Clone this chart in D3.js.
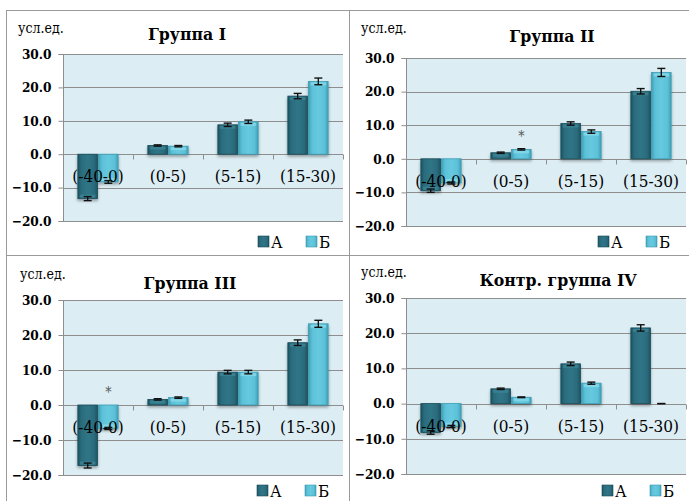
<!DOCTYPE html>
<html>
<head>
<meta charset="utf-8">
<script src="https://cdn.jsdelivr.net/npm/d3@7/dist/d3.min.js"></script>
<style>
  html, body { margin: 0; padding: 0; background: #ffffff; }
  svg { display: block; }
</style>
</head>
<body>
<svg id="chart" width="689" height="501"></svg>
<script>
// Temperature ranges on the x axis
const categories = ["(-40-0)", "(0-5)", "(5-15)", "(15-30)"];
const seriesNames = ["А", "Б"];
const yTicks = [30, 20, 10, 0, -10, -20];
const unitLabel = "усл.ед.";

const titles = ["Группа I", "Группа II", "Группа III", "Контр. группа IV"];

// Mean values (series А, Б) per range, with error half-widths
const group1A = [-13.3, 2.6, 8.8, 17.4];
const group1B = [-8.3, 2.4, 9.7, 21.8];
const group1AErr = [0.6, 0.2, 0.5, 0.8];
const group1BErr = [0.4, 0.2, 0.5, 1.0];

const group2A = [-9.5, 1.8, 10.5, 20.1];
const group2B = [-7.2, 2.8, 8.1, 25.7];
const group2AErr = [0.5, 0.2, 0.5, 0.8];
const group2BErr = [0.3, 0.2, 0.5, 1.2];

const group3A = [-17.3, 1.6, 9.4, 17.8];
const group3B = [-6.7, 2.1, 9.4, 23.2];
const group3AErr = [0.7, 0.2, 0.5, 0.8];
const group3BErr = [0.3, 0.2, 0.5, 1.0];

const group4A = [-8.2, 4.2, 11.3, 21.5];
const group4B = [-6.5, 1.8, 5.8, 0.0];
const group4AErr = [0.5, 0.2, 0.5, 0.9];
const group4BErr = [0.3, 0.1, 0.3, 0.0];

// Significance marks: [range index, series index]
const group1Marks = [];
const group2Marks = [[1, 1]];
const group3Marks = [[0, 1]];
const group4Marks = [];

const groups = [
  { A: group1A, B: group1B, AErr: group1AErr, BErr: group1BErr, marks: group1Marks },
  { A: group2A, B: group2B, AErr: group2AErr, BErr: group2BErr, marks: group2Marks },
  { A: group3A, B: group3B, AErr: group3AErr, BErr: group3BErr, marks: group3Marks },
  { A: group4A, B: group4B, AErr: group4AErr, BErr: group4BErr, marks: group4Marks }
];

// Panel geometry
const panels = [
  { frame: [6.5, 10.5, 349.5, 255.5], plot: [63, 343, 54, 221], titleX: 187, titleY: 40, unitX: 18, unitY: 33, legendX: 258, legendY: 248 },
  { frame: [349.5, 10.5, 700, 255.5], plot: [406, 686, 58, 226], titleX: 552, titleY: 42, unitX: 361, unitY: 33, legendX: 598, legendY: 248 },
  { frame: [6.5, 255.5, 349.5, 520], plot: [63, 343, 300, 475], titleX: 190, titleY: 289, unitX: 20, unitY: 279, legendX: 257, legendY: 497 },
  { frame: [349.5, 255.5, 700, 520], plot: [406, 686, 298, 474], titleX: 558, titleY: 286, unitX: 361, unitY: 277, legendX: 602, legendY: 497 }
];

const colorA = "#2b6c7d";
const colorB = "#5cc1d8";
const serif = "\"DejaVu Serif Condensed\", \"DejaVu Serif\", serif";

const svg = d3.select("#chart");
const defs = svg.append("defs");

function barGradient(id, edge, mid, light) {
  const g = defs.append("linearGradient").attr("id", id)
    .attr("x1", "0").attr("x2", "1").attr("y1", "0").attr("y2", "0");
  g.append("stop").attr("offset", "0").attr("stop-color", edge);
  g.append("stop").attr("offset", "0.18").attr("stop-color", mid);
  g.append("stop").attr("offset", "0.5").attr("stop-color", light);
  g.append("stop").attr("offset", "0.82").attr("stop-color", mid);
  g.append("stop").attr("offset", "1").attr("stop-color", edge);
}
barGradient("gradA", "#1d5362", colorA, "#2f7587");
barGradient("gradB", "#3f9fb6", colorB, "#66c9df");

const shadow = defs.append("filter").attr("id", "barShadow")
  .attr("x", "-30%").attr("y", "-10%").attr("width", "160%").attr("height", "130%");
shadow.append("feDropShadow").attr("dx", 0).attr("dy", 2).attr("stdDeviation", 1.6)
  .attr("flood-color", "#000").attr("flood-opacity", 0.35);

function txt(sel, size, weight) {
  return sel.style("font-family", serif).style("font-stretch", "condensed")
    .style("font-size", size + "px").style("font-weight", weight || "normal");
}

panels.forEach((p, i) => {
  const data = groups[i];
  const [x0px, x1px, yTop, yBot] = p.plot;
  const g = svg.append("g");

  // frame
  const [fx0, fy0, fx1, fy1] = p.frame;
  g.append("rect").attr("x", fx0).attr("y", fy0)
    .attr("width", fx1 - fx0).attr("height", fy1 - fy0)
    .attr("fill", "none").attr("stroke", "#9a9a9a").attr("stroke-width", 1);

  const x = d3.scaleBand().domain(categories).range([x0px, x1px]).padding(0);
  const xs = d3.scaleBand().domain(seriesNames).range([0, x.bandwidth()])
    .paddingInner(0.05).paddingOuter(0.72);
  const y = d3.scaleLinear().domain([-20, 30]).range([yBot, yTop]);

  // plot background
  g.append("rect").attr("x", x0px).attr("y", yTop)
    .attr("width", x1px - x0px).attr("height", yBot - yTop)
    .attr("fill", "#dcedf3");

  // gridlines
  g.append("g").selectAll("line").data(yTicks).join("line")
    .attr("x1", x0px).attr("x2", x1px)
    .attr("y1", d => Math.round(y(d)) + 0.5).attr("y2", d => Math.round(y(d)) + 0.5)
    .attr("stroke", "#8e8e8e").attr("stroke-width", 1);

  // y axis
  const yAxis = d3.axisLeft(y).tickValues(yTicks).tickSize(5).tickFormat(d3.format(".1f"));
  const ya = g.append("g").attr("transform", `translate(${x0px + 0.5},0)`).call(yAxis);
  ya.attr("font-family", null).attr("font-size", null);
  ya.select(".domain").attr("stroke", "#8e8e8e").attr("d", `M-5,${Math.round(y(30)) + 0.5}H0V${Math.round(y(-20)) + 0.5}H-5`);
  ya.selectAll(".tick line").attr("stroke", "#8e8e8e");
  txt(ya.selectAll(".tick text").attr("x", -12).attr("fill", "#000"), 13.5, "bold");

  // category tick marks along zero line
  const zeroY = Math.round(y(0)) + 0.5;
  g.append("g").selectAll("line").data(categories).join("line")
    .attr("x1", d => Math.round(x(d) + x.bandwidth()) + 0.5)
    .attr("x2", d => Math.round(x(d) + x.bandwidth()) + 0.5)
    .attr("y1", zeroY).attr("y2", zeroY + 5)
    .attr("stroke", "#8e8e8e");

  // bars
  const rows = [];
  categories.forEach((c, k) => {
    rows.push({ c, s: "А", v: data.A[k], e: data.AErr[k] });
    rows.push({ c, s: "Б", v: data.B[k], e: data.BErr[k] });
  });
  g.append("g").attr("filter", "url(#barShadow)")
    .selectAll("rect").data(rows.filter(r => r.v !== 0)).join("rect")
    .attr("x", d => x(d.c) + xs(d.s))
    .attr("width", xs.bandwidth())
    .attr("y", d => Math.min(y(d.v), y(0)))
    .attr("height", d => Math.abs(y(d.v) - y(0)))
    .attr("fill", d => d.s === "А" ? "url(#gradA)" : "url(#gradB)")
    .attr("stroke", d => d.s === "А" ? "#1a4b58" : "#3d9cb2")
    .attr("stroke-width", 0.8);

  // highlight strip at the outer end of each bar
  g.append("g").selectAll("rect").data(rows.filter(r => r.v !== 0)).join("rect")
    .attr("x", d => x(d.c) + xs(d.s) + 2)
    .attr("width", xs.bandwidth() - 4)
    .attr("y", d => d.v > 0 ? y(d.v) + 1 : y(d.v) - 4)
    .attr("height", 3)
    .attr("fill", d => d.s === "А" ? "#3f8798" : "#8edcec")
    .attr("opacity", 0.7);

  // category labels (drawn over the bars)
  txt(g.append("g").selectAll("text").data(categories).join("text")
    .attr("x", d => x(d) + x.bandwidth() / 2)
    .attr("y", y(0) + 28)
    .attr("text-anchor", "middle")
    .attr("fill", "#000").text(d => d), 17);

  // error bars
  const eb = g.append("g").attr("stroke", "#111").attr("stroke-width", 1.4);
  rows.forEach(d => {
    const cx = x(d.c) + xs(d.s) + xs.bandwidth() / 2;
    const y1 = y(d.v + d.e), y2 = y(d.v - d.e);
    eb.append("line").attr("x1", cx).attr("x2", cx).attr("y1", y1).attr("y2", y2);
    eb.append("line").attr("x1", cx - 4).attr("x2", cx + 4).attr("y1", y1).attr("y2", y1);
    eb.append("line").attr("x1", cx - 4).attr("x2", cx + 4).attr("y1", y2).attr("y2", y2);
  });

  // significance marks
  txt(g.append("g").selectAll("text").data(data.marks).join("text")
    .attr("x", d => x(categories[d[0]]) + xs(seriesNames[d[1]]) + xs.bandwidth() / 2)
    .attr("y", d => {
      const v = d[1] === 0 ? data.A[d[0]] : data.B[d[0]];
      return Math.min(y(Math.max(v, 0)), y(0)) - 8;
    })
    .attr("text-anchor", "middle")
    .attr("fill", "#555").text("*"), 14);

  // title
  txt(g.append("text").attr("x", p.titleX).attr("y", p.titleY)
    .attr("text-anchor", "middle")
    .attr("fill", "#000").text(titles[i]), 17.5, "bold");

  // units
  txt(g.append("text").attr("x", p.unitX).attr("y", p.unitY)
    .attr("fill", "#000").text(unitLabel), 14);

  // legend
  const lg = g.append("g").attr("transform", `translate(${p.legendX},${p.legendY})`);
  seriesNames.forEach((s, k) => {
    const lx = k * 48;
    lg.append("rect").attr("x", lx).attr("y", -12).attr("width", 11).attr("height", 11)
      .attr("fill", k === 0 ? "url(#gradA)" : "url(#gradB)")
      .attr("stroke", k === 0 ? "#1a4b58" : "#3d9cb2").attr("stroke-width", 0.6);
    txt(lg.append("text").attr("x", lx + 13).attr("y", 0)
      .attr("fill", "#000").text(s), 17);
  });
});
</script>
</body>
</html>
